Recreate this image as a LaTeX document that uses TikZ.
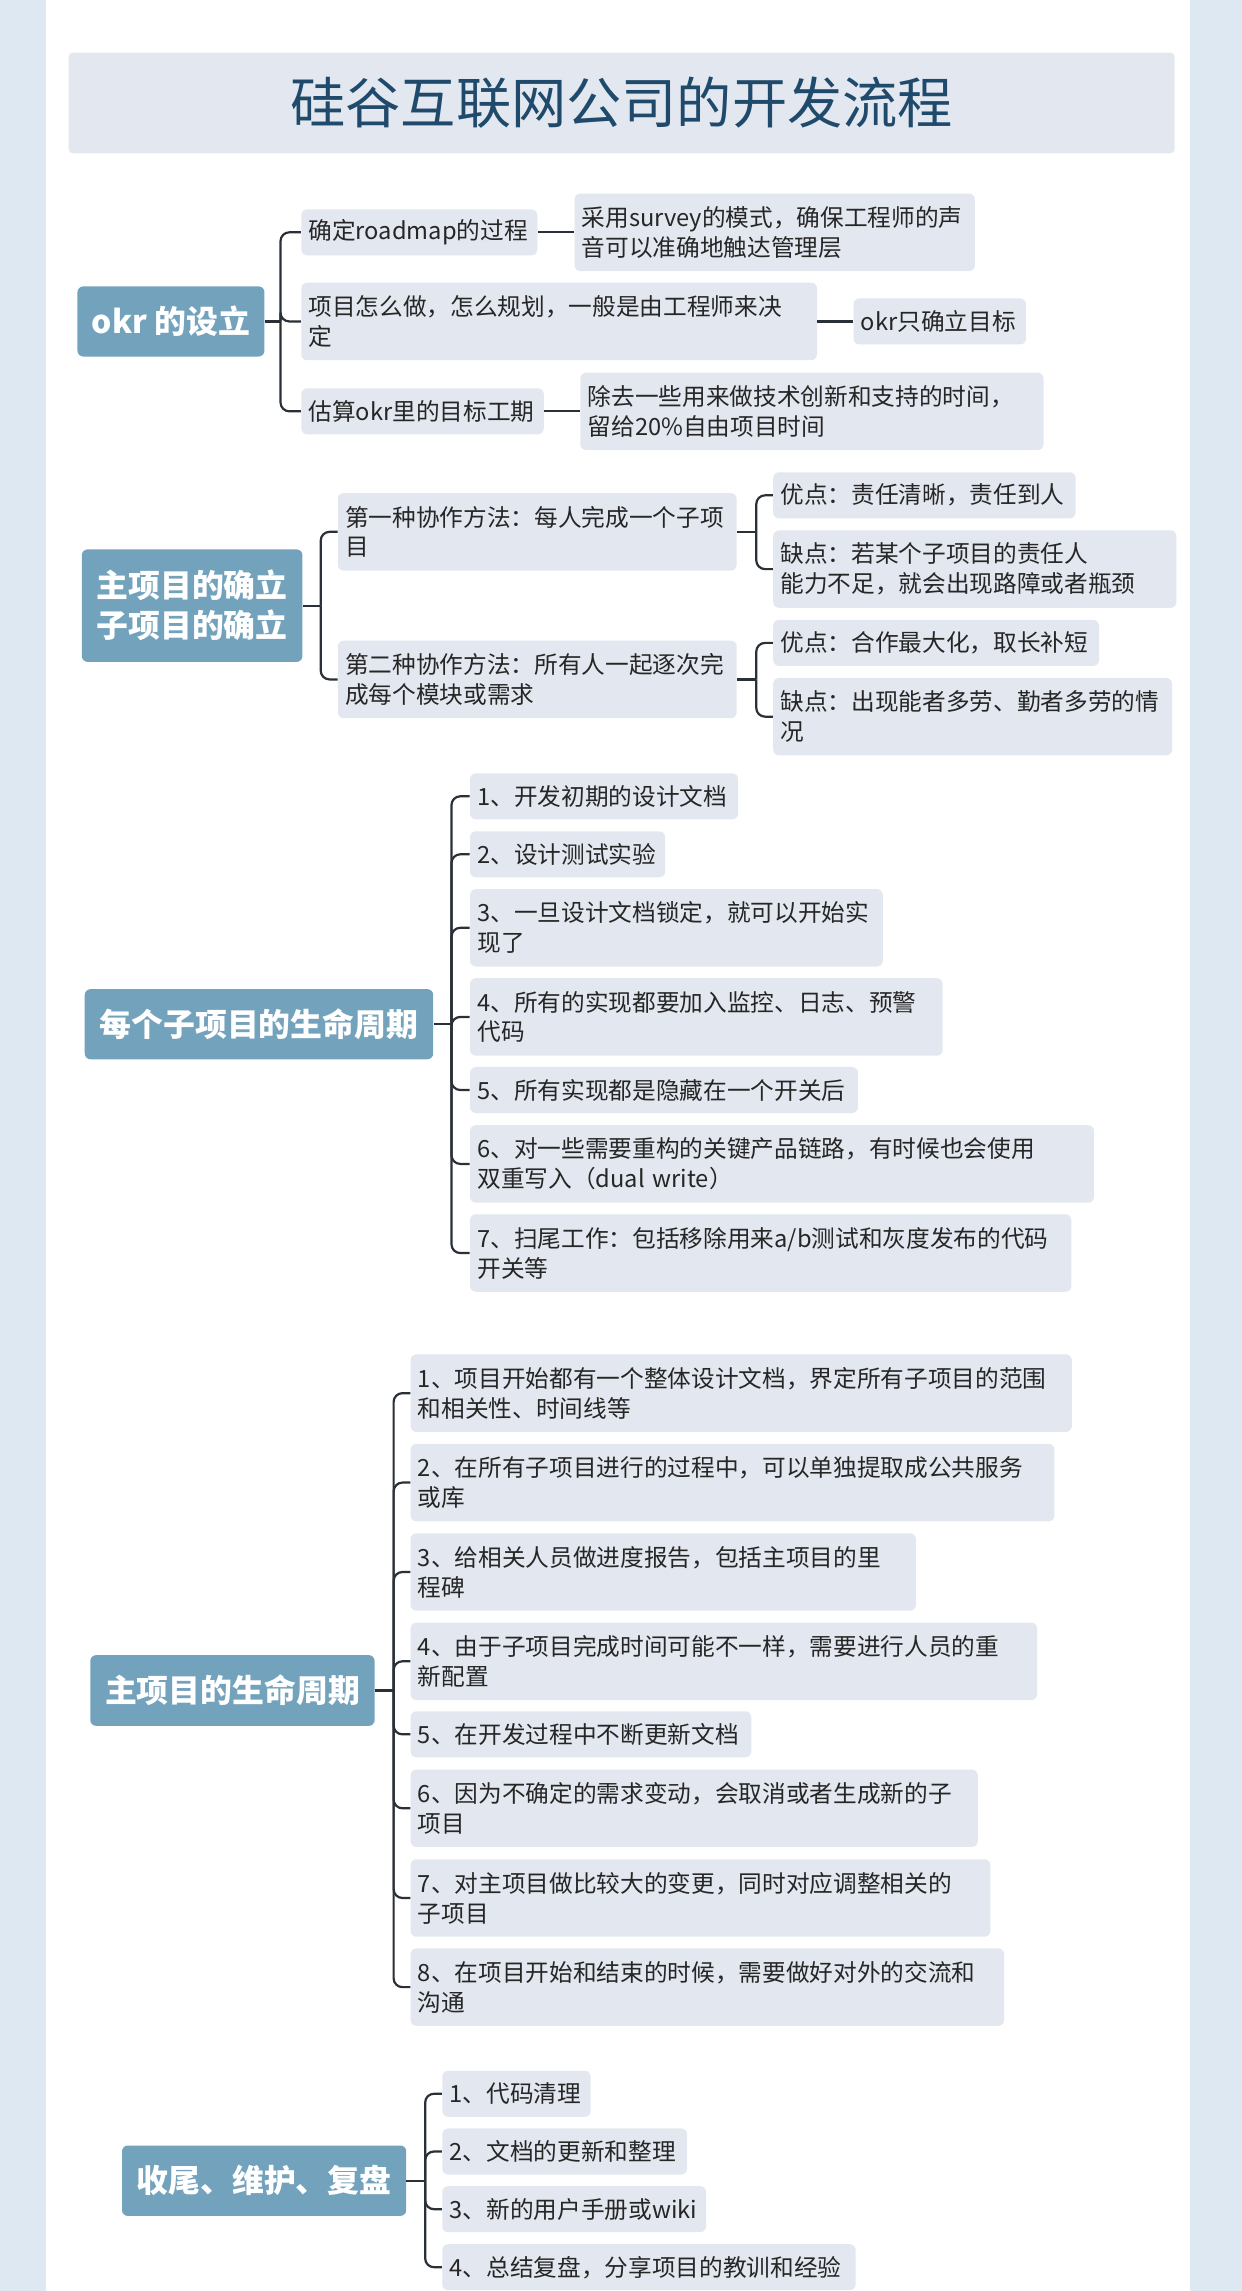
\documentclass[tikz,border=0pt]{standalone}
\usepackage{fontspec}
\usepackage{tikz}
\newfontfamily\cjk{Noto Sans CJK SC}
\definecolor{pagebg}{HTML}{DDE8F2}
\definecolor{rootblue}{HTML}{73A3BC}
\definecolor{leafgray}{HTML}{E3E8F0}
\definecolor{titleblue}{HTML}{1F4A6C}
\definecolor{linegray}{HTML}{2A3038}

\begin{document}
\begin{tikzpicture}[x=1pt,y=-1pt,
	root node/.style={rectangle,rounded corners=4pt,fill=rootblue,text=white,inner sep=0pt,align=center,font=\cjk\bfseries\fontsize{21.8}{27.4}\selectfont},
	leaf node/.style={rectangle,rounded corners=4pt,fill=leafgray,text=black!85,anchor=west,inner xsep=5pt,inner ysep=0pt,align=left,font=\cjk\fontsize{16.2}{20.5}\selectfont},
	branch/.style={draw=linegray,line width=1.5pt,rounded corners=6pt}
]

	\useasboundingbox (0,0) rectangle (850,1568);
	\fill[pagebg] (0,0) rectangle (850,1568);
	\fill[white] (31.5,0) rectangle (814.5,1568);

	\node[rectangle,rounded corners=3pt,fill=leafgray,minimum width=757pt,minimum height=69pt,text=titleblue,font=\cjk\fontsize{37.8}{40}\selectfont] (title) at (425.5,70.5) {硅谷互联网公司的开发流程};

	% okr
	\node[root node,minimum width=128pt,minimum height=48pt] (r1) at (117,220) {okr 的设立};
	\coordinate (k1) at (192,220);
	\node[leaf node,text width=151.5pt,minimum height=31.5pt] (a1) at (206,159) {确定roadmap的过程};
	\node[leaf node,text width=264pt,minimum height=53pt] (b1) at (393,159) {采用survey的模式，确保工程师的声\\音可以准确地触达管理层};
	\node[leaf node,text width=343pt,minimum height=53pt] (a2) at (206,220) {项目怎么做，怎么规划，一般是由工程师来决\\定};
	\node[leaf node,text width=108pt,minimum height=31.5pt] (b2) at (584,220) {okr只确立目标};
	\node[leaf node,text width=156pt,minimum height=31.5pt] (a3) at (206,281.5) {估算okr里的目标工期};
	\node[leaf node,text width=307pt,minimum height=53pt] (b3) at (397,281.5) {除去一些用来做技术创新和支持的时间，\\留给20\%自由项目时间};
	\draw[branch] (r1.east) -- (k1);
	\foreach \s in {1,2,3} {
		\draw[branch] (k1) |- (a\s.west);
		\draw[branch] (a\s.east) -- (a\s.east -| b\s.west);
	}

	% main / sub
	\node[root node,minimum width=151pt,minimum height=77pt] (r2) at (131.5,414.5) {主项目的确立\\子项目的确立};
	\coordinate (k2) at (219.5,414.5);
	\node[leaf node,text width=263pt,minimum height=53pt] (c1) at (231,364) {第一种协作方法：每人完成一个子项\\目};
	\node[leaf node,text width=263pt,minimum height=53pt] (c2) at (231,465) {第二种协作方法：所有人一起逐次完\\成每个模块或需求};
	\node[leaf node,text width=197pt,minimum height=31.5pt] (d1) at (529,339) {优点：责任清晰，责任到人};
	\node[leaf node,text width=266pt,minimum height=53pt] (d2) at (529,389.5) {缺点：若某个子项目的责任人\\能力不足，就会出现路障或者瓶颈};
	\node[leaf node,text width=213pt,minimum height=31.5pt] (d3) at (529,440) {优点：合作最大化，取长补短};
	\node[leaf node,text width=263pt,minimum height=53pt] (d4) at (529,490.5) {缺点：出现能者多劳、勤者多劳的情\\况};
	\coordinate (m1) at (517.6,364);
	\coordinate (m2) at (517.6,465);
	\draw[branch] (r2.east) -- (k2);
	\draw[branch] (k2) |- (c1.west);
	\draw[branch] (k2) |- (c2.west);
	\draw[branch] (c1.east) -- (m1);
	\draw[branch] (c2.east) -- (m2);
	\draw[branch] (m1) |- (d1.west);
	\draw[branch] (m1) |- (d2.west);
	\draw[branch] (m2) |- (d3.west);
	\draw[branch] (m2) |- (d4.west);

	% sub project life cycle
	\node[root node,minimum width=238.5pt,minimum height=48pt] (r3) at (177.25,701) {每个子项目的生命周期};
	\coordinate (k3) at (309,701);
	\draw[branch] (r3.east) -- (k3);
	\foreach \yc/\rx/\hh/\txt [count=\i] in {
		545/505/31.5/{1、开发初期的设计文档},
		584.7/455/31.5/{2、设计测试实验},
		635/604/53/{3、一旦设计文档锁定，就可以开始实\\现了},
		696/645/53/{4、所有的实现都要加入监控、日志、预警\\代码},
		746/587/31.5/{5、所有实现都是隐藏在一个开关后},
		796.6/748.6/53/{6、对一些需要重构的关键产品链路，有时候也会使用\\双重写入（dual write）},
		857.6/733/53/{7、扫尾工作：包括移除用来a/b测试和灰度发布的代码\\开关等}} {
		\pgfmathsetmacro\w{\rx-331.5}
		\node[leaf node,text width=\w pt,minimum height=\hh pt] (e\i) at (321.5,\yc) {\txt};
		\draw[branch] (k3) |- (e\i.west);
	}

	% main project life cycle
	\node[root node,minimum width=194.6pt,minimum height=48.4pt] (r4) at (159.1,1157) {主项目的生命周期};
	\coordinate (k4) at (269.4,1157);
	\draw[branch] (r4.east) -- (k4);
	\foreach \yc/\rx/\hh/\txt [count=\i] in {
		953.5/733.4/53/{1、项目开始都有一个整体设计文档，界定所有子项目的范围\\和相关性、时间线等},
		1014.7/721.5/53/{2、在所有子项目进行的过程中，可以单独提取成公共服务\\或库},
		1075.9/626.6/53/{3、给相关人员做进度报告，包括主项目的里\\程碑},
		1137/709.6/53/{4、由于子项目完成时间可能不一样，需要进行人员的重\\新配置},
		1187/514/31.5/{5、在开发过程中不断更新文档},
		1237.6/669/53/{6、因为不确定的需求变动，会取消或者生成新的子\\项目},
		1299/677.6/53/{7、对主项目做比较大的变更，同时对应调整相关的\\子项目},
		1360/687/53/{8、在项目开始和结束的时候，需要做好对外的交流和\\沟通}} {
		\pgfmathsetmacro\w{\rx-290.8}
		\node[leaf node,text width=\w pt,minimum height=\hh pt] (f\i) at (280.8,\yc) {\txt};
		\draw[branch] (k4) |- (f\i.west);
	}

	% wrap up
	\node[root node,minimum width=194.5pt,minimum height=48.2pt] (r5) at (180.75,1492.5) {收尾、维护、复盘};
	\coordinate (k5) at (291,1492.5);
	\draw[branch] (r5.east) -- (k5);
	\foreach \yc/\rx/\txt [count=\i] in {
		1433/404/{1、代码清理},
		1472.5/470/{2、文档的更新和整理},
		1512/483/{3、新的用户手册或wiki},
		1551.7/585.4/{4、总结复盘，分享项目的教训和经验}} {
		\pgfmathsetmacro\w{\rx-312.5}
		\node[leaf node,text width=\w pt,minimum height=31.5pt] (g\i) at (302.5,\yc) {\txt};
		\draw[branch] (k5) |- (g\i.west);
	}
\end{tikzpicture}
\end{document}
